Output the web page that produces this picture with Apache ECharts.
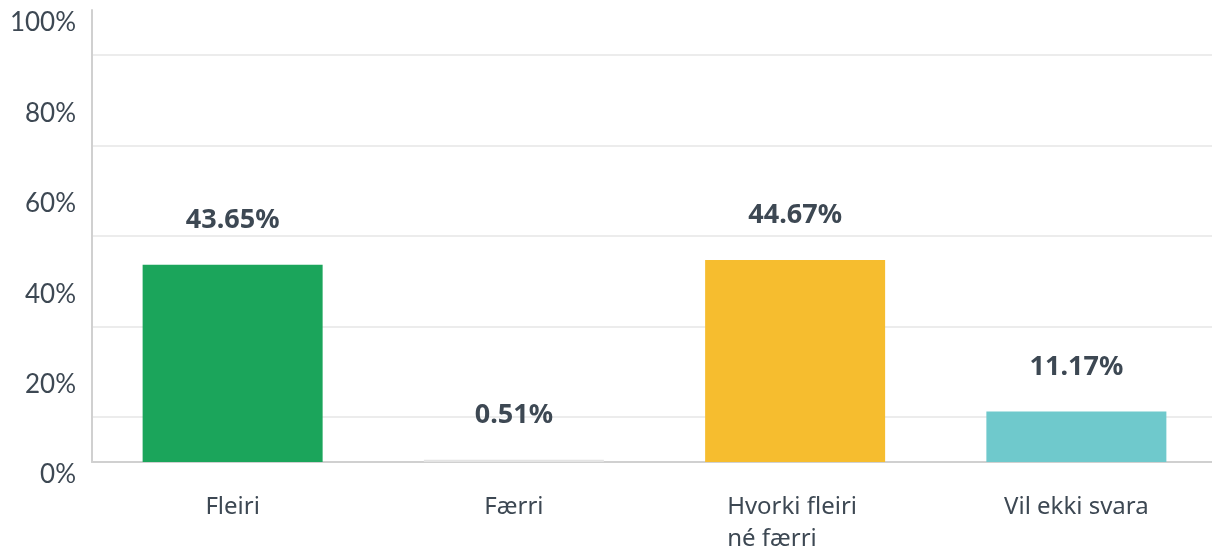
<!DOCTYPE html>
<html>
<head>
<meta charset="utf-8">
<script src="https://cdn.jsdelivr.net/npm/echarts@6/dist/echarts.min.js"></script>
<style>
  html, body { margin: 0; padding: 0; background: #fff; }
  #chart { width: 1212px; height: 552px; }
</style>
</head>
<body>
<div id="chart"></div>
<script>
// Datos del gráfico
const categories = ['Fleiri', 'Færri', 'Hvorki fleiri\nné færri', 'Vil ekki svara'];
const values = [43.65, 0.51, 44.67, 11.17];
const barColors = ['#1ba55b', '#e4e4e4', '#f6bd2f', '#6fc9cc'];
const yTicks = [0, 20, 40, 60, 80, 100];

const textColor = '#3d4853';

const chart = echarts.init(document.getElementById('chart'));
const option = {
    animation: false,
    grid: { left: 92, right: -5, top: 10, bottom: 90, outerBoundsMode: 'none', containLabel: false },
    xAxis: {
        type: 'category',
        data: categories,
        axisLine: { lineStyle: { color: '#d0d0d0', width: 2 } },
        axisTick: { show: false },
        axisLabel: {
            margin: 29,
            fontFamily: 'Noto Sans',
            fontSize: 24,
            color: textColor,
            lineHeight: 32,
            formatter: function (v) {
                // etiquetas de dos líneas alineadas a la izquierda
                if (v.indexOf('\n') < 0) return v;
                return v.split('\n').map(l => '{a|' + l + '}').join('\n');
            },
            rich: {
                a: {
                    fontFamily: 'Noto Sans',
                    fontSize: 24,
                    color: textColor,
                    lineHeight: 32,
                    width: 136,
                    align: 'left'
                }
            }
        }
    },
    yAxis: {
        type: 'value',
        min: yTicks[0],
        max: yTicks[yTicks.length - 1],
        interval: 20,
        axisLine: { show: true, lineStyle: { color: '#d0d0d0', width: 2 } },
        axisTick: { show: false },
        axisLabel: {
            margin: 16,
            fontFamily: 'Lato',
            fontSize: 26,
            color: textColor,
            verticalAlign: 'top',
            formatter: '{value}%'
        },
        splitLine: { show: false },
        minorTick: { show: false, splitNumber: 2 },
        minorSplitLine: { show: true, lineStyle: { color: '#ececec', width: 2 } }
    },
    series: [{
        type: 'bar',
        barWidth: 180,
        data: values.map((v, i) => ({ value: v, itemStyle: { color: barColors[i] } })),
        label: {
            show: true,
            position: 'top',
            distance: 31,
            fontFamily: 'Noto Sans',
            fontWeight: 'bold',
            fontSize: 27,
            color: textColor,
            formatter: p => p.value.toFixed(2) + '%'
        }
    }]
};
chart.setOption(option);
</script>
</body>
</html>
